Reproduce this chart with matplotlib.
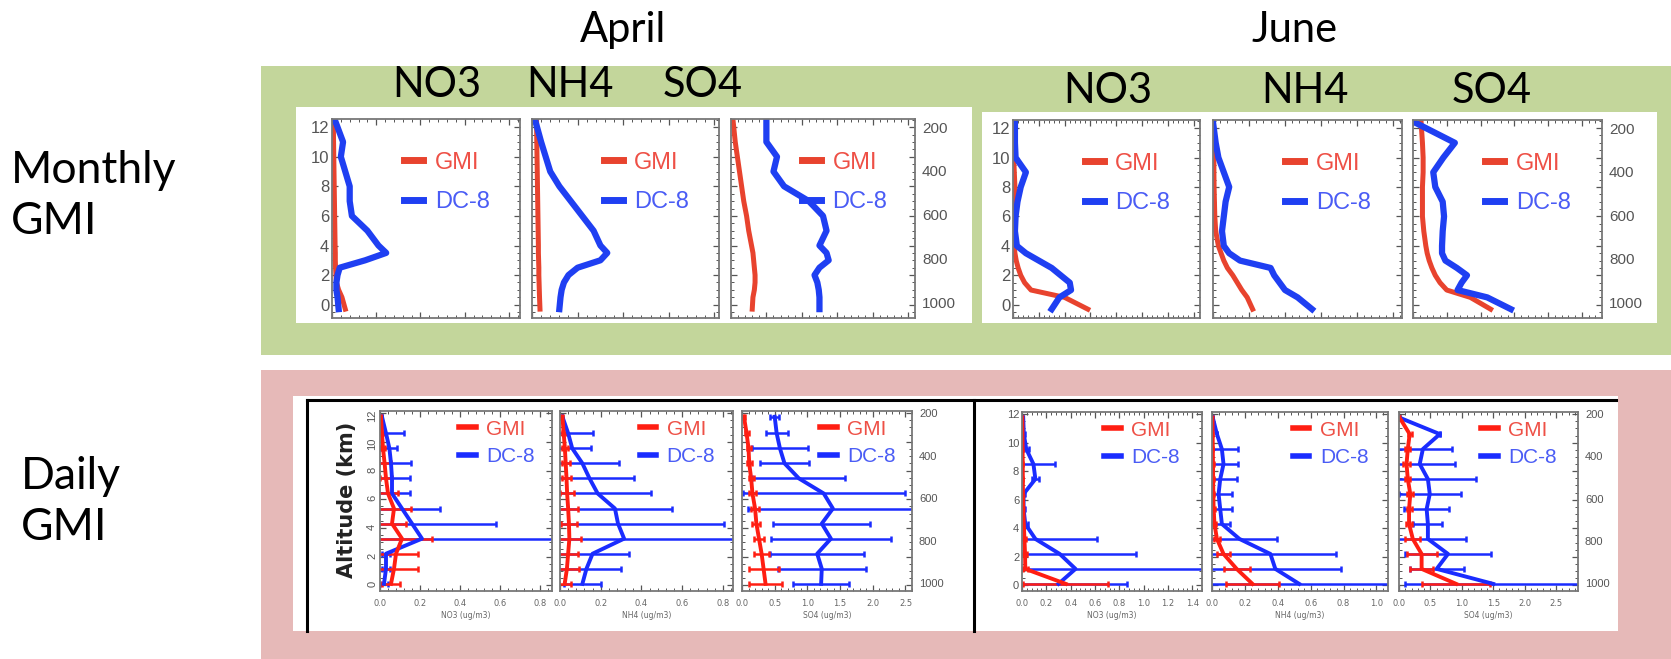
"""GMI vs DC-8 aerosol profiles, monthly and daily GMI output (April / June)."""

import matplotlib.pyplot as plt
from matplotlib.lines import Line2D
from matplotlib.patches import Rectangle
from matplotlib.ticker import AutoMinorLocator, MultipleLocator

W, H = 1671, 659

# altitude grids (km)
MON_ALT = [-0.3, 0.5, 1, 1.5, 2, 2.5, 3, 3.5, 4, 5, 6, 7, 8, 9, 10, 11, 12.4]
DAY_ALT = [0.1, 1.15, 2.2, 3.25, 4.3, 5.35, 6.4, 7.45, 8.5, 9.55, 10.6, 11.75]

# ---- monthly GMI row (ug/m3) ----
APR_NO3_DC8_M = [0.03, 0.025, 0.02, 0.02, 0.025, 0.035, 0.15, 0.245, 0.21, 0.16, 0.09, 0.08, 0.08, 0.06, 0.04, 0.05, 0.015]
APR_NO3_GMI_M = [0.06, 0.045, 0.03, 0.02, 0.018, 0.016, 0.015, 0.015, 0.014, 0.013, 0.012, 0.011, 0.01, 0.009, 0.008, 0.007, 0.006]
APR_NH4_DC8_M = [0.12, 0.125, 0.13, 0.14, 0.16, 0.2, 0.3, 0.33, 0.3, 0.27, 0.22, 0.17, 0.12, 0.08, 0.06, 0.04, 0.015]
APR_NH4_GMI_M = [0.035, 0.033, 0.032, 0.031, 0.03, 0.03, 0.029, 0.028, 0.028, 0.027, 0.026, 0.025, 0.024, 0.023, 0.022, 0.021, 0.02]
APR_SO4_DC8_M = [1.25, 1.25, 1.24, 1.22, 1.18, 1.25, 1.38, 1.35, 1.25, 1.35, 1.3, 1.1, 0.75, 0.6, 0.65, 0.5, 0.5]
APR_SO4_GMI_M = [0.3, 0.31, 0.33, 0.34, 0.34, 0.33, 0.32, 0.31, 0.29, 0.25, 0.22, 0.18, 0.15, 0.12, 0.09, 0.06, 0.03]
JUN_NO3_DC8_M = [0.3, 0.36, 0.45, 0.44, 0.37, 0.3, 0.2, 0.1, 0.03, 0.015, 0.02, 0.035, 0.06, 0.1, 0.02, 0.015, 0.015]
JUN_NO3_GMI_M = [0.58, 0.4, 0.14, 0.09, 0.06, 0.04, 0.025, 0.015, 0.008, 0.005, 0.006, 0.01, 0.015, 0.01, 0.005, 0.005, 0.005]
JUN_NH4_DC8_M = [0.55, 0.47, 0.4, 0.37, 0.34, 0.32, 0.15, 0.09, 0.06, 0.05, 0.06, 0.07, 0.09, 0.06, 0.03, 0.015, 0.0]
JUN_NH4_GMI_M = [0.22, 0.19, 0.16, 0.135, 0.11, 0.08, 0.06, 0.045, 0.03, 0.015, 0.01, 0.008, 0.006, 0.005, 0.005, 0.003, 0.0]
JUN_SO4_DC8_M = [1.45, 1.1, 0.66, 0.72, 0.8, 0.65, 0.48, 0.43, 0.43, 0.44, 0.46, 0.44, 0.33, 0.3, 0.45, 0.62, 0.02]
JUN_SO4_GMI_M = [1.15, 0.85, 0.5, 0.4, 0.33, 0.28, 0.24, 0.21, 0.19, 0.16, 0.14, 0.14, 0.14, 0.15, 0.15, 0.14, 0.12]

# ---- daily GMI row: means and standard deviations (ug/m3) ----
APR_NO3_DC8 = [0.02, 0.03, 0.03, 0.21, 0.16, 0.11, 0.06, 0.06, 0.055, 0.047, 0.03, 0.01]
APR_NO3_DC8_SD = [0.02, 0.02, 0.02, 0.9, 0.42, 0.19, 0.09, 0.09, 0.1, 0.04, 0.09, 0.0]
APR_NO3_GMI = [0.055, 0.07, 0.08, 0.11, 0.06, 0.07, 0.04, 0.03, 0.023, 0.015, 0.01, 0.005]
APR_NO3_GMI_SD = [0.045, 0.12, 0.11, 0.15, 0.07, 0.085, 0.05, 0.03, 0.03, 0.01, 0.01, 0.005]

APR_NH4_DC8 = [0.11, 0.13, 0.16, 0.315, 0.285, 0.27, 0.185, 0.145, 0.11, 0.06, 0.04, 0.012]
APR_NH4_DC8_SD = [0.09, 0.17, 0.18, 0.7, 0.52, 0.28, 0.26, 0.22, 0.18, 0.09, 0.12, 0.0]
APR_NH4_GMI = [0.023, 0.034, 0.04, 0.046, 0.044, 0.04, 0.035, 0.032, 0.028, 0.024, 0.018, 0.012]
APR_NH4_GMI_SD = [0.03, 0.06, 0.05, 0.055, 0.04, 0.05, 0.035, 0.02, 0.02, 0.015, 0.01, 0.005]

APR_SO4_DC8 = [1.21, 1.22, 1.15, 1.36, 1.22, 1.39, 1.25, 0.87, 0.65, 0.58, 0.53, 0.5]
APR_SO4_DC8_SD = [0.43, 0.67, 0.72, 0.92, 0.74, 1.3, 1.24, 0.71, 0.38, 0.43, 0.17, 0.07]
APR_SO4_GMI = [0.36, 0.33, 0.3, 0.26, 0.22, 0.2, 0.16, 0.14, 0.11, 0.1, 0.07, 0.03]
APR_SO4_GMI_SD = [0.25, 0.23, 0.12, 0.08, 0.06, 0.06, 0.05, 0.04, 0.04, 0.03, 0.03, 0.02]

JUN_NO3_DC8 = [0.3, 0.44, 0.31, 0.11, 0.027, 0.013, 0.013, 0.11, 0.094, 0.035, 0.015, 0.01]
JUN_NO3_DC8_SD = [0.56, 1.2, 0.63, 0.51, 0.02, 0.01, 0.01, 0.03, 0.18, 0.02, 0.01, 0.0]
JUN_NO3_GMI = [0.36, 0.027, 0.025, 0.02, 0.015, 0.01, 0.008, 0.007, 0.006, 0.005, 0.004, 0.003]
JUN_NO3_GMI_SD = [0.35, 0.02, 0.02, 0.015, 0.01, 0.01, 0.005, 0.005, 0.005, 0.003, 0.003, 0.002]

JUN_NH4_DC8 = [0.53, 0.385, 0.355, 0.167, 0.06, 0.05, 0.04, 0.05, 0.07, 0.06, 0.03, 0.005]
JUN_NH4_DC8_SD = [0.6, 0.4, 0.4, 0.23, 0.05, 0.07, 0.08, 0.1, 0.09, 0.1, 0.0, 0.0]
JUN_NH4_GMI = [0.246, 0.15, 0.07, 0.03, 0.015, 0.01, 0.008, 0.007, 0.006, 0.005, 0.004, 0.003]
JUN_NH4_GMI_SD = [0.16, 0.08, 0.04, 0.02, 0.01, 0.01, 0.005, 0.005, 0.005, 0.003, 0.003, 0.002]

JUN_SO4_DC8 = [1.5, 0.6, 0.78, 0.46, 0.46, 0.44, 0.49, 0.46, 0.33, 0.38, 0.65, 0.01]
JUN_SO4_DC8_SD = [1.4, 0.43, 0.69, 0.61, 0.23, 0.36, 0.49, 0.77, 0.56, 0.46, 0.0, 0.0]
JUN_SO4_GMI = [0.91, 0.36, 0.36, 0.22, 0.16, 0.16, 0.18, 0.14, 0.12, 0.14, 0.17, 0.01]
JUN_SO4_GMI_SD = [0.54, 0.18, 0.24, 0.12, 0.05, 0.04, 0.05, 0.04, 0.05, 0.04, 0.03, 0.0]

PRESSURE_TICKS = [200, 400, 600, 800, 1000]

RED_M, BLUE_M = "#e8432e", "#1f3ff2"
RED_D, BLUE_D = "#ff1e12", "#1a2cff"
RED_TXT, BLUE_TXT = "#ee5046", "#4a5cf5"
NARROW = ["Liberation Sans Narrow", "DejaVu Sans Condensed", "Liberation Sans"]
TITLE_FONT = ["Lato", "DejaVu Sans"]


def box(x0, y0, x1, y1):
    """pixel box (top-left origin) -> figure rect"""
    return [x0 / W, 1 - y1 / H, (x1 - x0) / W, (y1 - y0) / H]


def alt_to_p(a):
    return 1010 - 67.5 * a


def p_to_alt(p):
    return (1010 - p) / 67.5


fig = plt.figure(figsize=(W / 100, H / 100), dpi=100)


def add_rect(x0, y0, x1, y1, color, z):
    fig.add_artist(Rectangle((x0 / W, 1 - y1 / H), (x1 - x0) / W, (y1 - y0) / H,
                             transform=fig.transFigure, facecolor=color,
                             edgecolor="none", zorder=z))


# coloured panels and white picture areas
add_rect(261, 66, 1671, 355, "#c3d69b", -3)
add_rect(261, 370, 1671, 659, "#e6b9b8", -3)
add_rect(296, 107, 972, 323, "white", -2)
add_rect(982, 112, 1657, 323, "white", -2)
add_rect(293, 396, 1618, 631, "white", -2)
for xs, ys in [([307, 1616], [400, 400]), ([307, 307], [400, 631]), ([974, 974], [400, 631])]:
    fig.add_artist(Line2D([x / W for x in xs], [1 - y / H for y in ys], color="black",
                          lw=2.2, transform=fig.transFigure, zorder=-1))


def profile_axes(rect, xmax, xstep, ylim, left_labels, narrow_size, rot=0):
    ax = fig.add_axes(box(*rect))
    ax.set_xlim(0, xmax)
    ax.set_ylim(*ylim)
    ax.xaxis.set_major_locator(MultipleLocator(xstep))
    ax.xaxis.set_minor_locator(AutoMinorLocator(5))
    ax.yaxis.set_major_locator(MultipleLocator(2))
    ax.yaxis.set_minor_locator(MultipleLocator(0.5))
    ax.tick_params(which="both", direction="in", top=True, right=True, color="#555")
    ax.tick_params(which="major", length=4, width=0.9)
    ax.tick_params(which="minor", length=2, width=0.7)
    ax.tick_params(axis="y", labelleft=left_labels, labelsize=narrow_size,
                   labelcolor="#555", pad=2, labelrotation=rot)
    for s in ax.spines.values():
        s.set_color("#777")
        s.set_linewidth(1.3)
    return ax


def add_legend(ax, red, blue, lw, anchor, spacing, size):
    handles = [Line2D([], [], color=red, lw=lw), Line2D([], [], color=blue, lw=lw)]
    ax.legend(handles, ["GMI", "DC-8"], loc="upper left", bbox_to_anchor=anchor,
              frameon=False, handlelength=0.8, handletextpad=0.5, borderpad=0,
              labelspacing=spacing, labelcolor=[RED_TXT, BLUE_TXT],
              prop={"family": NARROW, "size": size})


def add_pressure(ax, size):
    sec = ax.secondary_yaxis("right", functions=(alt_to_p, p_to_alt))
    sec.set_yticks(PRESSURE_TICKS)
    sec.tick_params(length=0, labelsize=size, labelcolor="#555", pad=5)
    for lab in sec.get_yticklabels():
        lab.set_family(NARROW)
    sec.spines["right"].set_visible(False)


def monthly_panel(rect, dc8, gmi, xmax, xstep, left_labels=False, pressure=False):
    ax = profile_axes(rect, xmax, xstep, (-0.9, 12.55), left_labels, 12)
    ax.tick_params(axis="x", labelbottom=False)
    ax.plot(gmi, MON_ALT, color=RED_M, lw=3.6)
    ax.plot(dc8, MON_ALT, color=BLUE_M, lw=4.5)
    for lab in ax.get_yticklabels():
        lab.set_family(NARROW)
    add_legend(ax, RED_M, BLUE_M, 5, (0.32, 0.895), 0.75, 17)
    if pressure:
        add_pressure(ax, 11)
    return ax


def daily_panel(rect, dc8, dc8_sd, gmi, gmi_sd, xmax, xstep, xlabel,
                left_labels=False, pressure=False, rot=0):
    ax = profile_axes(rect, xmax, xstep, (-0.4, 12.15), left_labels, 8, rot)
    ax.errorbar(dc8, DAY_ALT, xerr=dc8_sd, color=BLUE_D, lw=2.8, elinewidth=1.8,
                capsize=2.5, capthick=1.8)
    ax.errorbar(gmi, DAY_ALT, xerr=gmi_sd, color=RED_D, lw=2.8, elinewidth=1.8,
                capsize=2.5, capthick=1.8)
    ax.tick_params(axis="x", labelsize=6, labelcolor="#666", pad=6)
    ax.xaxis.set_major_formatter(lambda v, pos: f"{v:.1f}")
    ax.set_xlabel(xlabel, fontsize=5.5, color="#666", labelpad=2)
    for lab in ax.get_yticklabels():
        lab.set_family(NARROW)
    add_legend(ax, RED_D, BLUE_D, 4, (0.40, 1.01), 0.4, 15)
    if pressure:
        add_pressure(ax, 8)
    return ax


# monthly row
monthly_panel((332, 119, 520, 318), APR_NO3_DC8_M, APR_NO3_GMI_M, 0.85, 0.2, left_labels=True)
monthly_panel((532, 119, 719, 318), APR_NH4_DC8_M, APR_NH4_GMI_M, 0.82, 0.2)
monthly_panel((731, 119, 915, 318), APR_SO4_DC8_M, APR_SO4_GMI_M, 2.6, 0.5, pressure=True)
monthly_panel((1013, 120, 1200, 318), JUN_NO3_DC8_M, JUN_NO3_GMI_M, 1.45, 0.2, left_labels=True)
monthly_panel((1213, 120, 1402, 318), JUN_NH4_DC8_M, JUN_NH4_GMI_M, 1.05, 0.2)
monthly_panel((1413, 120, 1602, 318), JUN_SO4_DC8_M, JUN_SO4_GMI_M, 2.8, 0.5, pressure=True)

# daily row
daily_panel((380, 411, 552, 591), APR_NO3_DC8, APR_NO3_DC8_SD, APR_NO3_GMI, APR_NO3_GMI_SD,
            0.86, 0.2, "NO3 (ug/m3)", left_labels=True, rot=90)
daily_panel((560, 411, 733, 591), APR_NH4_DC8, APR_NH4_DC8_SD, APR_NH4_GMI, APR_NH4_GMI_SD,
            0.85, 0.2, "NH4 (ug/m3)")
daily_panel((742, 411, 912, 591), APR_SO4_DC8, APR_SO4_DC8_SD, APR_SO4_GMI, APR_SO4_GMI_SD,
            2.6, 0.5, "SO4 (ug/m3)", pressure=True)
daily_panel((1022, 412, 1202, 591), JUN_NO3_DC8, JUN_NO3_DC8_SD, JUN_NO3_GMI, JUN_NO3_GMI_SD,
            1.48, 0.2, "NO3 (ug/m3)", left_labels=True)
daily_panel((1212, 412, 1388, 591), JUN_NH4_DC8, JUN_NH4_DC8_SD, JUN_NH4_GMI, JUN_NH4_GMI_SD,
            1.07, 0.2, "NH4 (ug/m3)")
daily_panel((1399, 412, 1578, 591), JUN_SO4_DC8, JUN_SO4_DC8_SD, JUN_SO4_GMI, JUN_SO4_GMI_SD,
            2.85, 0.5, "SO4 (ug/m3)", pressure=True)

fig.text(347 / W, 1 - 500 / H, "Altitude (km)", rotation=90, ha="center", va="center",
         fontsize=15, fontweight="bold", color="#222")

# headings
for label, x, y in [("April", 623, 30), ("June", 1295, 30),
                    ("NO3", 437, 85), ("NH4", 570, 85), ("SO4", 703, 85),
                    ("NO3", 1108, 91), ("NH4", 1305, 91), ("SO4", 1492, 91)]:
    fig.text(x / W, 1 - y / H, label, ha="center", va="center", fontsize=30,
             family=TITLE_FONT)
fig.text(11 / W, 1 - 196 / H, "Monthly\nGMI", ha="left", va="center", fontsize=32,
         family=TITLE_FONT, linespacing=1.3)
fig.text(21 / W, 1 - 502 / H, "Daily\nGMI", ha="left", va="center", fontsize=32,
         family=TITLE_FONT, linespacing=1.3)

fig.savefig("out.png", dpi=100)
